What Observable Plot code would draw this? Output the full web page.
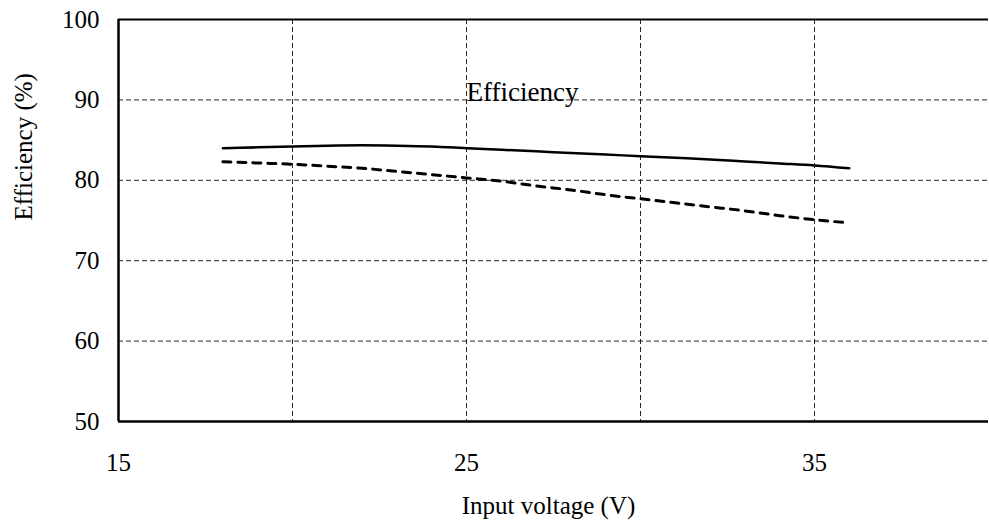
<!DOCTYPE html>
<html>
<head>
<meta charset="utf-8">
<script src="https://cdn.jsdelivr.net/npm/d3@7"></script>
<script src="https://cdn.jsdelivr.net/npm/@observablehq/plot@0.6"></script>
<style>
  html, body { margin: 0; padding: 0; background: #fff; }
  svg text { font-family: "Liberation Serif", "Times New Roman", serif; }
</style>
</head>
<body>
<div id="chart"></div>
<script>
// Input voltage (V)
const voltage = [18, 19, 20, 21, 22, 23, 24, 25, 26, 27, 28, 29, 30, 31, 32, 33, 34, 35, 36];
// Efficiency (%) — solid curve
const effSolid = [84.0, 84.1, 84.2, 84.3, 84.35, 84.3, 84.2, 84.0, 83.8, 83.6, 83.4, 83.2, 83.0, 82.8, 82.6, 82.35, 82.1, 81.85, 81.5];
// Efficiency (%) — dashed curve
const effDashed = [82.3, 82.15, 82.0, 81.75, 81.5, 81.1, 80.7, 80.3, 79.9, 79.3, 78.8, 78.2, 77.7, 77.2, 76.7, 76.2, 75.6, 75.1, 74.7];

const xTicks = [15, 25, 35];
const yTicks = [50, 60, 70, 80, 90, 100];
const xGrid = [20, 25, 30, 35];
const yGrid = [60, 70, 80, 90];
const seriesLabel = "Efficiency";
const xLabel = "Input voltage (V)";
const yLabel = "Efficiency (%)";

const solid = voltage.map((v, i) => ({v, e: effSolid[i]}));
const dashed = voltage.map((v, i) => ({v, e: effDashed[i]}));

const serif = "'Liberation Serif', 'Times New Roman', serif";

const chart = Plot.plot({
  width: 989,
  height: 528,
  marginLeft: 118,
  marginRight: 1,
  marginTop: 19,
  marginBottom: 107,
  style: {fontFamily: serif, fontSize: "25px", background: "#fff", color: "#000"},
  x: {domain: [15, 40]},
  y: {domain: [50, 100]},
  marks: [
    Plot.gridX(xGrid, {stroke: "#000", strokeOpacity: 0.85, strokeWidth: 1, strokeDasharray: "5,3"}),
    Plot.gridY(yGrid, {stroke: "#000", strokeOpacity: 0.85, strokeWidth: 1, strokeDasharray: "5,3"}),
    Plot.ruleX([15], {stroke: "#000", strokeWidth: 2.5}),
    Plot.ruleY([50], {stroke: "#000", strokeWidth: 2.5}),
    Plot.ruleY([100], {stroke: "#000", strokeWidth: 2}),
    Plot.lineY(solid, {x: "v", y: "e", stroke: "#000", strokeWidth: 2.5, curve: "monotone-x"}),
    Plot.lineY(dashed, {x: "v", y: "e", stroke: "#000", strokeWidth: 3, strokeDasharray: "8,7", curve: "monotone-x"}),
    Plot.text([seriesLabel], {x: 25, y: 90, text: d => d, textAnchor: "start", lineAnchor: "middle", dy: -8, fontSize: 27, fontFamily: serif, fill: "#000"}),
    Plot.axisX({ticks: xTicks, tickSize: 0, tickPadding: 32, fontSize: 25, fontFamily: serif, fill: "#000", label: null}),
    Plot.axisY({ticks: yTicks, tickSize: 0, tickPadding: 19, fontSize: 25, fontFamily: serif, fill: "#000", label: null}),
    Plot.text([xLabel], {frameAnchor: "bottom", text: d => d, dx: -5, dy: 84, lineAnchor: "middle", fontSize: 25, fontFamily: serif, fill: "#000"}),
    Plot.text([yLabel], {frameAnchor: "left", text: d => d, rotate: -90, dx: -95, lineAnchor: "middle", fontSize: 25, fontFamily: serif, fill: "#000"})
  ]
});
document.getElementById("chart").appendChild(chart);
</script>
</body>
</html>
